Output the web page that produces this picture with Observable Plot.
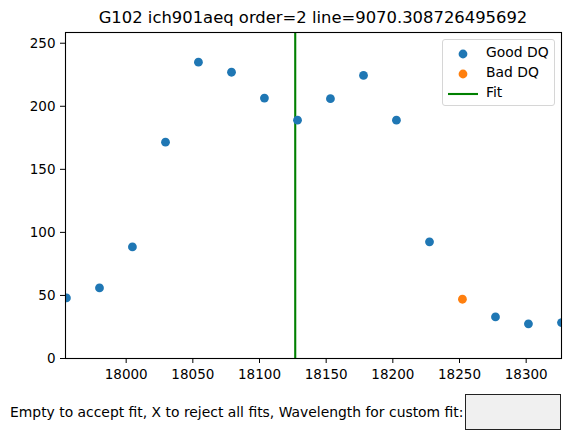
<!DOCTYPE html>
<html>
<head>
<meta charset="utf-8">
<script src="https://cdn.jsdelivr.net/npm/d3@7"></script>
<script src="https://cdn.jsdelivr.net/npm/@observablehq/plot@0.6"></script>
<style>
  html, body { margin: 0; padding: 0; background: #fff; }
  body { width: 570px; height: 445px; position: relative; overflow: hidden; font-family: "DejaVu Sans", sans-serif; color: #000; }
  #title { position: absolute; left: 65px; width: 496px; top: 9.5px; text-align: center; font-size: 16.4px; line-height: 16px; white-space: nowrap; }
  #chart { position: absolute; left: 0; top: 0; }
  #chart svg, #chart svg text { font-family: "DejaVu Sans", sans-serif !important; font-size: 13.5px !important; }
  #legend { position: absolute; left: 441.5px; top: 39px; width: 111px; height: 65px; border: 1px solid #d6d6d6; border-radius: 3px; background: rgba(255,255,255,0.8); font-size: 13.9px; }
  .item { position: absolute; left: 0; height: 20px; width: 111px; }
  .item svg { position: absolute; left: 3px; top: 0; }
  .item span { position: absolute; left: 43.5px; top: 2px; line-height: 16px; white-space: nowrap; }
  #prompt { position: absolute; left: 10px; top: 404px; font-size: 13.9px; line-height: 16px; white-space: nowrap; }
  #box { position: absolute; left: 465px; top: 394px; width: 94px; height: 34px; background: #f0f0f0; border: 1px solid #222; }
</style>
</head>
<body>
<div id="chart"></div>
<div id="title"></div>
<div id="legend"></div>
<div id="prompt"></div>
<div id="box"></div>
<script>
const titleText = "G102 ich901aeq order=2 line=9070.308726495692";
const promptText = "Empty to accept fit, X to reject all fits, Wavelength for custom fit:";
const wavelengths = [17955.2, 17980.0, 18004.7, 18029.5, 18054.2, 18079.0, 18103.7, 18128.5, 18153.2, 18178.0, 18202.7, 18227.5, 18252.2, 18277.0, 18301.7, 18326.5];
const flux = [48, 56, 88.5, 171.5, 235, 227, 206.5, 189, 206, 224.5, 189, 92.5, 47, 33, 27.5, 28.5];
const dqGood = [true, true, true, true, true, true, true, true, true, true, true, true, false, true, true, true];
const fitWave = [18126.8];
const xDomain = [17954.5, 18326.5];
const yDomain = [0, 258.5];
const xTicks = [18000, 18050, 18100, 18150, 18200, 18250, 18300];
const yTicks = [0, 50, 100, 150, 200, 250];
const legendLabels = ["Good DQ", "Bad DQ", "Fit"];
const goodColor = "#1f77b4", badColor = "#ff7f0e", fitColor = "#008000";

const pts = wavelengths.map((w, i) => ({w, f: flux[i], good: dqGood[i]}));
const good = pts.filter(d => d.good);
const bad = pts.filter(d => !d.good);

const chart = Plot.plot({
  width: 570,
  height: 392,
  marginTop: 32,
  marginBottom: 34,
  marginLeft: 65,
  marginRight: 9,
  style: {fontFamily: "DejaVu Sans, sans-serif", fontSize: "13.5px", color: "#000", background: "transparent", overflow: "visible"},
  x: {domain: xDomain, ticks: xTicks, tickFormat: d => String(d), tickSize: 5, tickPadding: 6, label: null},
  y: {domain: yDomain, ticks: yTicks, tickFormat: d => String(d), tickSize: 5, tickPadding: 5, label: null},
  marks: [
    Plot.ruleX(fitWave, {stroke: fitColor, strokeWidth: 2.1}),
    Plot.dot(good, {x: "w", y: "f", r: 4.4, fill: goodColor, stroke: "none", clip: true}),
    Plot.dot(bad, {x: "w", y: "f", r: 4.4, fill: badColor, stroke: "none", clip: true}),
    Plot.frame({stroke: "#000", strokeWidth: 1.1})
  ]
});
document.getElementById("chart").appendChild(chart);
document.getElementById("title").textContent = titleText;
document.getElementById("prompt").textContent = promptText;

const legend = document.getElementById("legend");
const swatches = [
  `<svg width="34" height="20"><circle cx="17" cy="12" r="4.4" fill="${goodColor}"/></svg>`,
  `<svg width="34" height="20"><circle cx="17" cy="12" r="4.4" fill="${badColor}"/></svg>`,
  `<svg width="34" height="20"><line x1="2" x2="32" y1="12" y2="12" stroke="${fitColor}" stroke-width="2.1"/></svg>`
];
legendLabels.forEach((lab, i) => {
  const it = document.createElement("div");
  it.className = "item";
  it.style.top = (2 + i * 20) + "px";
  it.innerHTML = swatches[i] + `<span>${lab}</span>`;
  legend.appendChild(it);
});
</script>
</body>
</html>
